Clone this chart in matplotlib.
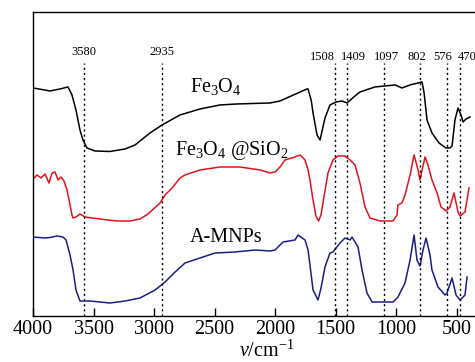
import matplotlib
matplotlib.use("Agg")
import matplotlib.pyplot as plt

plt.rcParams['font.family'] = ['Liberation Serif', 'DejaVu Serif']
plt.rcParams['mathtext.fontset'] = 'custom'
plt.rcParams['mathtext.rm'] = 'Liberation Serif'
plt.rcParams['mathtext.it'] = 'Liberation Serif:italic'

# FTIR spectra, transmittance in arbitrary offset units
fe3o4_wn = [4000, 3860, 3777, 3711, 3678, 3645, 3612, 3587, 3554, 3488, 3364, 3240,
            3157, 3033, 2934, 2785, 2620, 2455, 2314, 2041, 1959, 1736, 1727, 1700,
            1686, 1653, 1628, 1587, 1546, 1496, 1446, 1405, 1339, 1298, 1174, 1008,
            951, 884, 818, 785, 768, 744, 703, 645, 587, 554, 537, 513, 488, 463,
            446, 421, 389]
fe3o4_t = [228, 225, 227, 229, 221, 206, 186, 176, 168, 165, 164.5, 167,
           171, 183, 191, 201, 207, 211, 212, 213, 215, 227, 227, 215,
           203, 181, 176, 198, 211, 214, 215, 213, 220, 224, 229, 231,
           228, 231, 233, 234, 223, 196, 183, 173, 168, 168, 170, 196, 208, 201,
           194, 197, 199]

sio2_wn = [4000, 3967, 3934, 3901, 3868, 3843, 3818, 3793, 3769, 3744, 3719, 3694,
           3678, 3669, 3645, 3612, 3570, 3512, 3446, 3380, 3298, 3198, 3116, 3050,
           2950, 2909, 2851, 2785, 2744, 2620, 2455, 2289, 2124, 2041, 2000, 1959,
           1917, 1835, 1793, 1752, 1727, 1711, 1686, 1662, 1640, 1620, 1600, 1562,
           1521, 1480, 1422, 1380, 1339, 1298, 1256, 1215, 1132, 1025, 992, 984,
           951, 926, 884, 851, 818, 802, 785, 760, 736, 703, 661, 628, 587, 554,
           521, 488, 471, 430, 397]
sio2_t = [137, 141, 138, 142, 133, 143, 144, 136, 139, 135, 126, 111,
          101, 98, 99, 102, 99, 98, 97, 96, 95, 95, 97, 102,
          113, 121, 128, 138, 141, 146, 149, 149, 146, 143, 144, 149,
          156, 159, 161, 156, 146, 136, 116, 100, 95, 101, 116, 143,
          156, 160, 160, 156, 151, 133, 109, 98, 95, 95, 101, 111,
          113, 121, 141, 161, 146, 136, 146, 159, 151, 136, 123, 109, 105, 109,
          123, 104, 100, 104, 128]

amnp_wn = [4000, 3901, 3860, 3802, 3752, 3727, 3694, 3669, 3645, 3612, 3529, 3364,
           3240, 3116, 2992, 2950, 2909, 2826, 2744, 2620, 2496, 2331, 2165, 2041,
           2000, 1934, 1835, 1810, 1752, 1727, 1711, 1686, 1645, 1620, 1587, 1546,
           1521, 1463, 1422, 1380, 1364, 1314, 1281, 1240, 1198, 1132, 1025, 984,
           926, 884, 851, 827, 802, 777, 752, 719, 703, 653, 595, 579, 537, 504,
           471, 430, 413]
amnp_t = [79, 78, 78.5, 80, 79, 76, 61, 46, 26, 15, 15, 13,
          15, 18, 26, 30, 34, 44, 53, 58, 63, 64, 66, 65,
          66, 74, 76, 81, 76, 66, 51, 26, 16, 28, 49, 63,
          64, 73, 78, 76, 79, 69, 46, 23, 14, 14, 14, 19,
          33, 56, 81, 56, 50, 66, 78, 61, 46, 29, 21, 23, 38, 21,
          16, 21, 39]

peak_wn = [3580, 2935, 1508, 1409, 1097, 802, 576, 470]
peak_labels = ['3580', '2935', '1508', '1409', '1097', '802', '576', '470']
xticks = [4000, 3500, 3000, 2500, 2000, 1500, 1000, 500]

fig = plt.figure(figsize=(4.75, 3.62), dpi=100)
ax = fig.add_axes([0.0695, 0.127, 0.99, 0.840])

ax.plot(fe3o4_wn, fe3o4_t, color='black', lw=1.1)
ax.plot(sio2_wn, sio2_t, color='#e3121f', lw=1.1)
ax.plot(amnp_wn, amnp_t, color='#1c1c8a', lw=1.1)

# label positions nudged apart where lines are crowded
label_x = [3580, 2935, 1612, 1355, 1083, 827, 612, 413]
for wn, lx, lab in zip(peak_wn, label_x, peak_labels):
    ax.plot([wn, wn], [0, 253], color='black', lw=1.0, linestyle=(0, (1.5, 2.2)))
    ty = 264 if wn > 2000 else 259
    ax.text(lx, ty, lab, ha='center', va='center', fontsize=9)

ax.text(2488, 224, r'Fe$_3$O$_4$', ha='center', va='baseline', fontsize=14.5)
ax.text(2355, 161, r'Fe$_3$O$_4$ @SiO$_2$', ha='center', va='baseline', fontsize=14.5)
ax.text(2405, 74, 'A-MNPs', ha='center', va='baseline', fontsize=14.5)

ax.set_xlim(4000, 4000 - 8.264 * (0.99 * 475))
ax.set_ylim(0, 304)
ax.set_xticks(xticks)
ax.set_xticklabels([str(t) for t in xticks], fontsize=14.5)
ax.set_yticks([])
ax.tick_params(axis='x', direction='in', length=5.5, width=1.0, pad=3)
for s in ['left', 'top', 'bottom']:
    ax.spines[s].set_linewidth(1.0)
ax.spines['right'].set_visible(False)

fig.text(0.562, 0.0, r'$\nu$/cm$^{-1}$', ha='center', va='bottom', fontsize=14.5)

fig.savefig('out.png', dpi=100)
